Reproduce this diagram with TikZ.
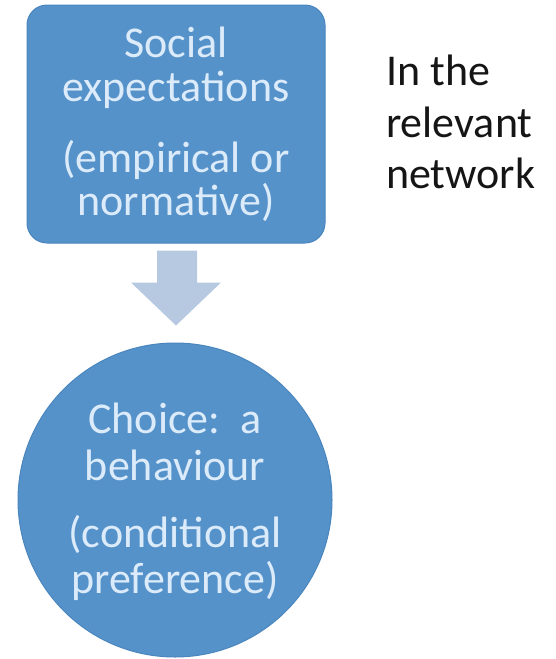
\documentclass[tikz,border=0pt]{standalone}
\usepackage{fontspec}
\setmainfont{Carlito}
\usetikzlibrary{calc}
\definecolor{boxblue}{HTML}{5592CA}
\definecolor{boxedge}{HTML}{4A86BD}
\definecolor{lighttext}{HTML}{DCEBFA}
\definecolor{arrowblue}{HTML}{B7C8E1}
\definecolor{darktext}{HTML}{151515}
\tikzset{
  shapefill/.style={fill=boxblue, draw=boxedge, line width=1pt},
  intext/.style={text=lighttext, font=\fontsize{44}{44}\selectfont, anchor=base, inner sep=0pt},
  sidetext/.style={text=darktext, font=\fontsize{44}{44}\selectfont, anchor=base west, inner sep=0pt},
}
\begin{document}
\begin{tikzpicture}[x=1pt,y=-1pt]
\useasboundingbox (0,0) rectangle (555,659);
% top box
\node[shapefill, rounded corners=20pt, minimum width=298pt, minimum height=238pt, inner sep=0pt] (box) at (176,124) {};
\node[intext] (t1) at (176,57) {Social};
\node[intext] (t2) at (176,101) {expectations};
\node[intext] (t3) at (176,172) {(empirical or};
\node[intext] (t4) at (176,215) {normative)};
% circle
\node[shapefill, circle, minimum size=314pt, inner sep=0pt] (circ) at (175,500) {};
\node[intext] (c1) at (175,433) {Choice:\ \ a};
\node[intext] (c2) at (175,480) {behaviour};
\node[intext] (c3) at (175,547) {(conditional};
\node[intext] (c4) at (175,593) {preference)};
% block arrow between box and circle
\coordinate (as) at ($(box.south)+(0,7)$);
\coordinate (at) at ($(circ.north)+(1,-17)$);
\fill[arrowblue] ($(as)+(-19,0)$) -- ($(as)+(21,0)$) -- ($(as)+(21,32)$) -- ($(as)+(45,32)$) -- (at) -- ($(as)+(-45,32)$) -- ($(as)+(-19,32)$) -- cycle;
% side text
\node[sidetext] (s1) at (386,85) {In the};
\node[sidetext] (s2) at (386,137) {relevant};
\node[sidetext] (s3) at (386,188) {network};
\end{tikzpicture}
\end{document}
